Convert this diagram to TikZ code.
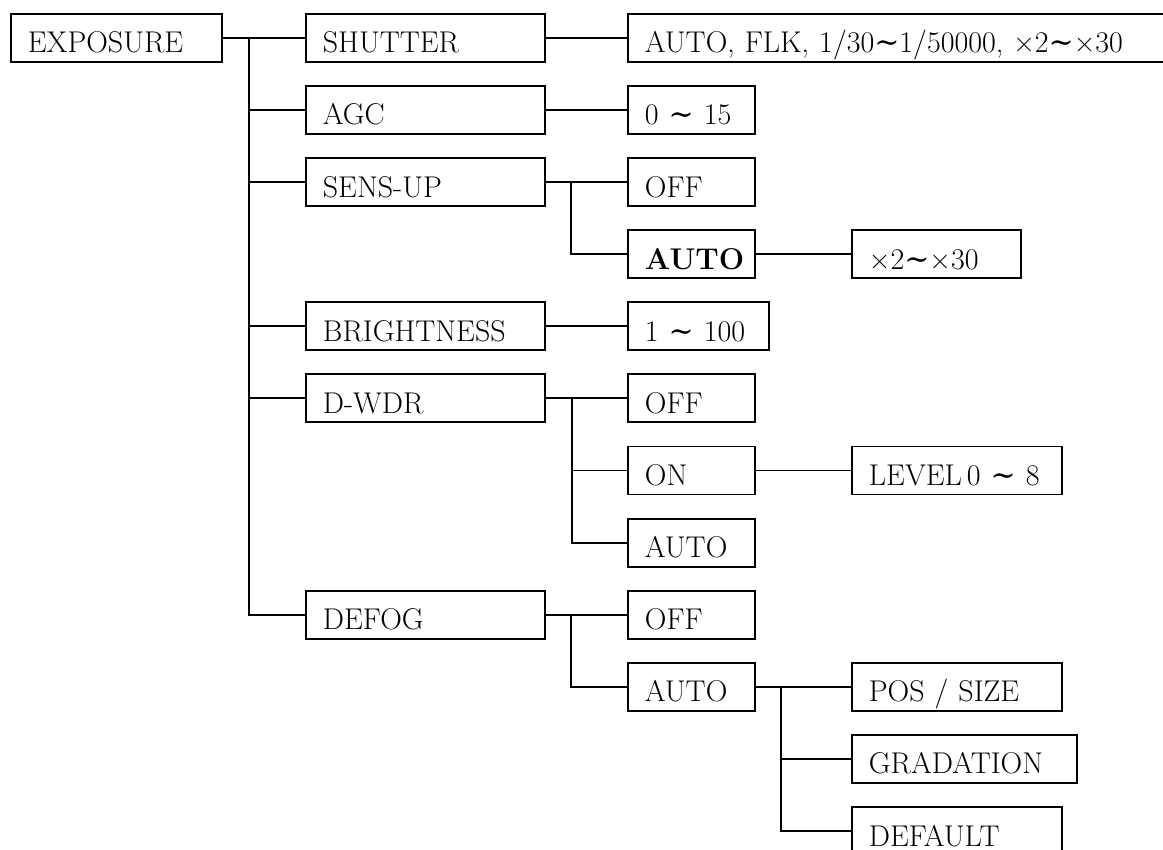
\documentclass[tikz,border=0pt]{standalone}
\usepackage{fontspec}
\usepackage{tikz}
\usetikzlibrary{positioning}
\newfontfamily\symf{DejaVu Serif}
\newcommand{\wv}{{\symf ∼}}
\tikzstyle{item} = [draw, line width=1.8pt, anchor=north west, inner xsep=17pt,
                    inner ysep=0pt, minimum height=48pt, text height=32pt,
                    text depth=2pt, align=left, font=\fontsize{30}{34}\selectfont]
\tikzstyle{link} = [line width=1.8pt]

\begin{document}
\begin{tikzpicture}[x=1pt, y=-1pt, line join=miter]
    \useasboundingbox (0,0) rectangle (1163,850);
    \clip (0,0) rectangle (1163,850);

    % Root
    \node[item, text width=177pt] (exp) at (10,13) {EXPOSURE};

    % First level
    \node[item, text width=205pt] (shut)   at (305,13)    {SHUTTER};
    \node[item, text width=205pt] (agc)    at (305,85.1)  {AGC};
    \node[item, text width=205pt] (sens)   at (305,157.2) {SENS-UP};
    \node[item, text width=205pt] (bright) at (305,301.4) {BRIGHTNESS};
    \node[item, text width=205pt] (dwdr)   at (305,373.5) {D-WDR};
    \node[item, text width=205pt] (defog)  at (305,589.8) {DEFOG};

    % Second level
    \node[item, text width=540pt] (shutval) at (627,13)
      {AUTO, FLK, 1/30\wv 1/50000, ×2\wv ×30};
    \node[item, text width=93pt]  (agcval)  at (627,85.1)  {0 \wv\ 15};
    \node[item, text width=93pt]  (soff)    at (627,157.2) {OFF};
    \node[item, text width=93pt]  (sauto)   at (627,229.3) {\bfseries AUTO};
    \node[item, text width=107pt] (brval)   at (627,301.4) {1 \wv\ 100};
    \node[item, text width=93pt]  (doff)    at (627,373.5) {OFF};
    \node[item, text width=93pt]  (don)     at (627,445.6) {ON};
    \node[item, text width=93pt]  (dauto)   at (627,517.7) {AUTO};
    \node[item, text width=93pt]  (foff)    at (627,589.8) {OFF};
    \node[item, text width=93pt]  (fauto)   at (627,661.9) {AUTO};

    % Third level
    \node[item, text width=135pt] (sval)  at (851,229.3) {×2\wv ×30};
    \node[item, text width=176pt] (dlev)  at (851,445.6) {LEVEL\,0 \wv\ 8};
    \node[item, text width=176pt] (pos)   at (851,661.9) {POS / SIZE};
    \node[item, text width=191pt] (grad)  at (851,734)   {GRADATION};
    \node[item, text width=176pt] (fdef)  at (851,806.1) {DEFAULT};

    % Trunk from the root
    \draw[link] (exp.east) -- (shut.west);
    \draw[link] (defog.west) -- ++(-56,0) |- (shut.west);
    \foreach \n in {agc,sens,bright,dwdr}
      \draw[link] (\n.west) -- ++(-56,0);

    % Single links
    \draw[link] (shut.east) -- (shutval.west);
    \draw[link] (agc.east) -- (agcval.west);
    \draw[link] (sauto.east) -- (sval.west);
    \draw[link] (bright.east) -- (brval.west);
    \draw[link] (don.east) -- (dlev.west);

    % Branches
    \draw[link] (sens.east) -- (soff.west);
    \draw[link] (sauto.west) -- ++(-56,0) |- (soff.west);
    \draw[link] (dwdr.east) -- (doff.west);
    \draw[link] (dauto.west) -- ++(-55,0) |- (doff.west);
    \draw[link] (don.west) -- ++(-55,0);
    \draw[link] (defog.east) -- (foff.west);
    \draw[link] (fauto.west) -- ++(-56,0) |- (foff.west);
    \draw[link] (fauto.east) -- (pos.west);
    \draw[link] (fdef.west) -- ++(-70,0) |- (pos.west);
    \draw[link] (grad.west) -- ++(-70,0);
\end{tikzpicture}
\end{document}
